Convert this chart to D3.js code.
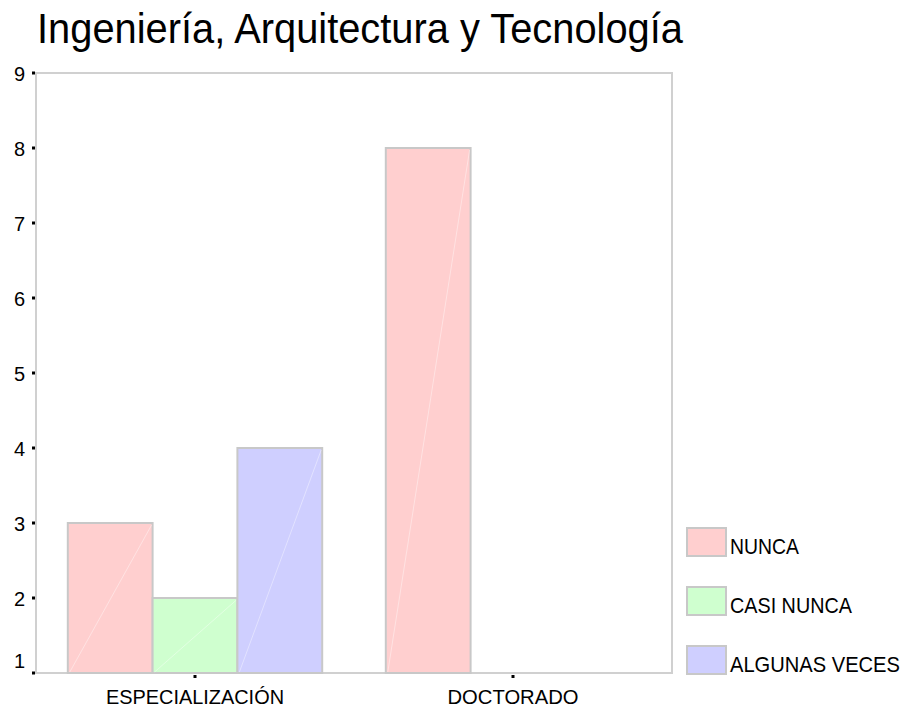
<!DOCTYPE html>
<html>
<head>
<meta charset="utf-8">
<script src="https://cdn.jsdelivr.net/npm/d3@7"></script>
<style>
  html, body { margin: 0; padding: 0; background: #fff; }
  svg { display: block; font-family: "Liberation Sans", Arial, sans-serif; }
</style>
</head>
<body>
<svg id="chart" width="909" height="710"></svg>
<script>
// Chart content
const title = "Ingeniería, Arquitectura y Tecnología";
const categories = ["ESPECIALIZACIÓN", "DOCTORADO"];
const seriesNames = ["NUNCA", "CASI NUNCA", "ALGUNAS VECES"];
const nunca = [3, 8];
const casiNunca = [2, null];
const algunasVeces = [4, null];
const yTicks = [1, 2, 3, 4, 5, 6, 7, 8, 9];
const seriesColors = ["#ffcfcf", "#cfffcf", "#cfcfff"];

const seriesValues = [nunca, casiNunca, algunasVeces];

const svg = d3.select("#chart");
const plot = { left: 36, right: 672, top: 73, bottom: 673 };

const x = d3.scaleBand().domain(categories).range([plot.left, plot.right]);
const groupWidth = x.bandwidth() * 0.8;
const xSub = d3.scaleBand().domain(seriesNames).range([0, groupWidth]);
const y = d3.scaleLinear().domain([1, 9]).range([plot.bottom, plot.top]);

// Title (narrow, tall lettering)
svg.append("text")
  .attr("x", 37).attr("y", 43)
  .attr("font-size", 42)
  .attr("textLength", 646).attr("lengthAdjust", "spacingAndGlyphs")
  .attr("fill", "#000")
  .text(title);

// Plot frame
svg.append("rect")
  .attr("x", plot.left).attr("y", plot.top)
  .attr("width", plot.right - plot.left).attr("height", plot.bottom - plot.top)
  .attr("fill", "none").attr("stroke", "#d0d0d0").attr("stroke-width", 2);

// Bars (baseline at the axis minimum)
const barData = [];
categories.forEach((c, ci) => {
  seriesNames.forEach((s, si) => {
    const v = seriesValues[si][ci];
    if (v != null) barData.push({ c, s, v, color: seriesColors[si] });
  });
});

const bars = svg.append("g");
barData.forEach(d => {
  const x0 = x(d.c) + (x.bandwidth() - groupWidth) / 2 + xSub(d.s);
  const w = xSub.bandwidth();
  const yTop = y(d.v), yBase = y(1);
  bars.append("rect")
    .attr("x", x0).attr("y", yTop)
    .attr("width", w).attr("height", yBase - yTop)
    .attr("fill", d.color).attr("stroke", "#c8c8c8").attr("stroke-width", 2);
  // faint diagonal sheen across the bar face
  bars.append("line")
    .attr("x1", x0 + 2).attr("y1", yBase - 1)
    .attr("x2", x0 + w - 1).attr("y2", yTop + 2)
    .attr("stroke", "#fff").attr("stroke-opacity", 0.4).attr("stroke-width", 1);
});

// Y axis tick marks and labels
const yAxis = svg.append("g");
yTicks.forEach(t => {
  yAxis.append("rect")
    .attr("x", 32).attr("y", y(t) - 1.5)
    .attr("width", 3).attr("height", 3).attr("fill", "#000");
  yAxis.append("text")
    .attr("x", 25).attr("y", Math.min(y(t) + 8, 668))
    .attr("text-anchor", "end").attr("font-size", 20)
    .attr("fill", "#000")
    .text(t);
});

// X axis tick marks and category labels
const labelWidths = { "ESPECIALIZACIÓN": 178, "DOCTORADO": 131 };
const xAxis = svg.append("g");
categories.forEach(c => {
  const cx = x(c) + x.bandwidth() / 2;
  xAxis.append("rect")
    .attr("x", cx - 1.5).attr("y", plot.bottom + 2)
    .attr("width", 3).attr("height", 3).attr("fill", "#000");
  xAxis.append("text")
    .attr("x", cx).attr("y", 704)
    .attr("text-anchor", "middle").attr("font-size", 19.5)
    .attr("textLength", labelWidths[c]).attr("lengthAdjust", "spacingAndGlyphs")
    .attr("fill", "#000")
    .text(c);
});

// Legend (labels squeezed horizontally with a scale transform)
const legendWidths = [69, 122, 170];
const legend = svg.append("g");
seriesNames.forEach((s, i) => {
  const ly = 528 + i * 59;
  legend.append("rect")
    .attr("x", 687).attr("y", ly)
    .attr("width", 39).attr("height", 28)
    .attr("fill", seriesColors[i]).attr("stroke", "#c8c8c8").attr("stroke-width", 2);
  const label = legend.append("text")
    .attr("x", 0).attr("y", 0)
    .attr("font-size", 21.5)
    .attr("fill", "#000")
    .text(s);
  const natural = label.node().getComputedTextLength();
  const sx = legendWidths[i] / natural;
  label.attr("transform", `translate(730,${ly + 26}) scale(${sx},1)`);
});
</script>
</body>
</html>
